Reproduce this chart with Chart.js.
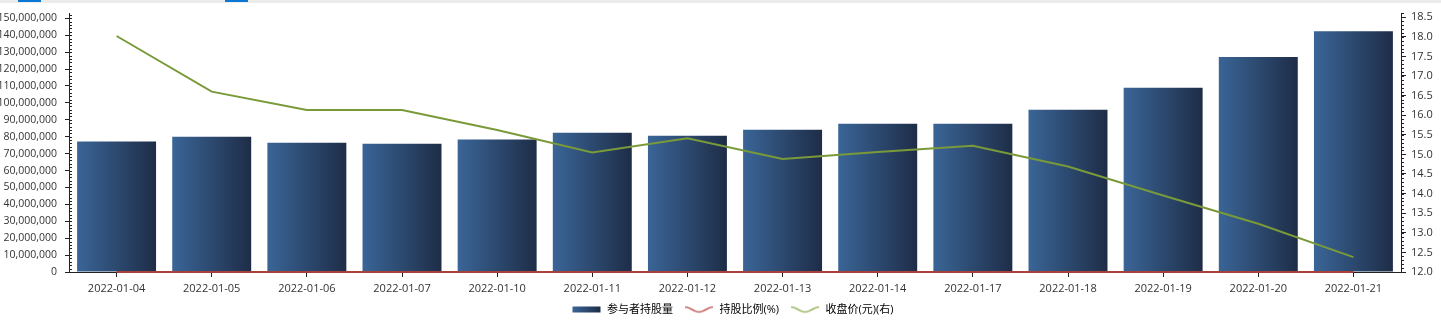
<!DOCTYPE html>
<html>
<head>
<meta charset="utf-8">
<script src="https://cdn.jsdelivr.net/npm/chart.js@4"></script>
<style>
  html, body { margin: 0; padding: 0; background: #fff; }
  #wrap { position: relative; width: 1441px; height: 323px; }
  #topbar { position: absolute; left: 0; top: 0; width: 1441px; height: 3px; background: #ececec; }
  .tab { position: absolute; top: 0; width: 23px; height: 2px; background: #0a78d4; }
</style>
</head>
<body>
<div id="wrap">
  <canvas id="chart" width="1441" height="323"></canvas>
  <div id="topbar"><div class="tab" style="left:18px"></div><div class="tab" style="left:225px"></div></div>
</div>
<script>
const labels = ['2022-01-04', '2022-01-05', '2022-01-06', '2022-01-07', '2022-01-10', '2022-01-11', '2022-01-12',
    '2022-01-13', '2022-01-14', '2022-01-17', '2022-01-18', '2022-01-19', '2022-01-20', '2022-01-21'];
// 参与者持股量
const holdings = [77.1e6, 80.0e6, 76.5e6, 75.9e6, 78.3e6, 82.4e6, 80.6e6, 84.1e6, 87.7e6, 87.7e6, 95.9e6, 108.9e6, 127.1e6, 142.4e6];
// 持股比例(%)
const holdRatio = [5.21, 5.41, 5.17, 5.13, 5.29, 5.57, 5.45, 5.68, 5.93, 5.93, 6.48, 7.36, 8.59, 9.62];
// 收盘价(元)
const closePrice = [18.02, 16.60, 16.13, 16.13, 15.62, 15.05, 15.41, 14.88, 15.06, 15.22, 14.69, 13.95, 13.23, 12.38];

// axis ticks
const leftTicks = [0, 10e6, 20e6, 30e6, 40e6, 50e6, 60e6, 70e6, 80e6, 90e6, 100e6, 110e6, 120e6, 130e6, 140e6, 150e6];
const rightTicks = [12.0, 12.5, 13.0, 13.5, 14.0, 14.5, 15.0, 15.5, 16.0, 16.5, 17.0, 17.5, 18.0, 18.5];

const FONT = "'Open Sans', 'Noto Sans CJK SC', sans-serif";
const BAR_PCT = 0.83;

function barGradient(ctx, x0, x1) {
    const g = ctx.createLinearGradient(x0, 0, x1, 0);
    g.addColorStop(0, '#3a6597');
    g.addColorStop(1, '#1e2d47');
    return g;
}

function makeIcon(kind, color) {
    const c = document.createElement('canvas');
    c.width = 30;
    c.height = 8;
    const g = c.getContext('2d');
    if (kind === 'bar') {
        g.fillStyle = barGradient(g, 1, 29);
        g.fillRect(1, 1, 28, 6);
    } else {
        g.strokeStyle = color;
        g.lineWidth = 1.5;
        g.beginPath();
        for (let x = 1; x <= 29; x++) {
            const y = 4 - 2.4 * Math.cos(2 * Math.PI * (x - 1) / 28);
            if (x === 1) g.moveTo(x, y); else g.lineTo(x, y);
        }
        g.stroke();
    }
    return c;
}

const icons = [makeIcon('bar'), makeIcon('wave', '#c2625f'), makeIcon('wave', '#9bb765')];

// small inner ticks on both value axes
const minorTicks = {
    id: 'minorTicks',
    afterLayout(chart) {
        // nudge legend like the original
        chart.legend.left += 12;
        chart.legend.right += 12;
        chart.legend.top -= 3;
        chart.legend.bottom -= 3;
    },
    afterDraw(chart) {
        const ctx = chart.ctx;
        const y = chart.scales.y, y1 = chart.scales.y1;
        ctx.save();
        ctx.strokeStyle = '#222';
        ctx.lineWidth = 1;
        ctx.beginPath();
        for (let v = 0; v <= 152e6; v += 2e6) {
            const py = Math.round(y.getPixelForValue(v)) + 0.5;
            ctx.moveTo(y.right, py);
            ctx.lineTo(y.right + 3, py);
        }
        for (let i = 0; i <= 66; i++) {
            const py = Math.round(y1.getPixelForValue(12 + i * 0.1)) + 0.5;
            ctx.moveTo(y1.left, py);
            ctx.lineTo(y1.left + 3, py);
        }
        ctx.stroke();
        ctx.restore();
    }
};

new Chart(document.getElementById('chart'), {
    data: {
        labels: labels,
        datasets: [{
            type: 'bar',
            label: '参与者持股量',
            data: holdings,
            yAxisID: 'y',
            order: 3,
            borderWidth: 0,
            categoryPercentage: 1,
            barPercentage: BAR_PCT,
            backgroundColor: function (c) {
                const xs = c.chart.scales.x;
                if (!xs || c.dataIndex === undefined) return '#2c4a72';
                const cx = xs.getPixelForValue(c.dataIndex);
                const half = xs.width / labels.length * BAR_PCT / 2;
                return barGradient(c.chart.ctx, cx - half, cx + half);
            }
        }, {
            type: 'line',
            label: '持股比例(%)',
            data: holdRatio,
            yAxisID: 'y',
            order: 1,
            clip: false,
            borderColor: '#a8403c',
            borderWidth: 2,
            pointRadius: 0,
            tension: 0
        }, {
            type: 'line',
            label: '收盘价(元)(右)',
            data: closePrice,
            yAxisID: 'y1',
            order: 0,
            borderColor: '#7a9a3a',
            borderWidth: 2,
            pointRadius: 0,
            tension: 0
        }]
    },
    options: {
        responsive: false,
        animation: false,
        events: [],
        layout: { padding: { top: 10, bottom: -5, left: 0, right: 0 } },
        scales: {
            x: {
                offset: true,
                grid: { display: true, drawOnChartArea: false, offset: false, tickLength: 5, tickColor: '#222' },
                border: { color: '#222' },
                ticks: { color: '#333', font: { family: FONT, size: 11 }, padding: 5, maxRotation: 0, autoSkip: false },
                afterFit: function (s) { s.height = 24; }
            },
            y: {
                position: 'left',
                min: 0,
                max: 153e6,
                grid: { drawOnChartArea: false, tickLength: 4, tickColor: '#222' },
                border: { color: '#222' },
                afterBuildTicks: function (s) { s.ticks = leftTicks.map(function (v) { return { value: v }; }); },
                ticks: {
                    autoSkip: false,
                    color: '#333',
                    font: { family: FONT, size: 10.5, lineHeight: 1 },
                    padding: 8,
                    callback: function (v) { return v.toLocaleString('en-US'); }
                },
                afterFit: function (s) { s.width = 69; }
            },
            y1: {
                position: 'right',
                min: 12,
                max: 18.6,
                grid: { drawOnChartArea: false, tickLength: 5, tickColor: '#222' },
                border: { color: '#222' },
                afterBuildTicks: function (s) { s.ticks = rightTicks.map(function (v) { return { value: v }; }); },
                ticks: {
                    autoSkip: false,
                    color: '#333',
                    font: { family: FONT, size: 11, lineHeight: 1 },
                    padding: 5,
                    callback: function (v) { return v.toFixed(1); }
                },
                afterFit: function (s) { s.width = 40; }
            }
        },
        plugins: {
            tooltip: { enabled: false },
            legend: {
                position: 'bottom',
                labels: {
                    usePointStyle: true,
                    pointStyleWidth: 30,
                    boxHeight: 8,
                    padding: 11,
                    color: '#333',
                    font: { family: FONT, size: 11 },
                    generateLabels: function (chart) {
                        return chart.data.datasets.map(function (ds, i) {
                            return {
                                text: ds.label,
                                pointStyle: icons[i],
                                fillStyle: 'transparent',
                                strokeStyle: 'transparent',
                                lineWidth: 0,
                                hidden: false,
                                datasetIndex: i
                            };
                        });
                    }
                }
            }
        }
    },
    plugins: [minorTicks]
});
</script>
</body>
</html>
